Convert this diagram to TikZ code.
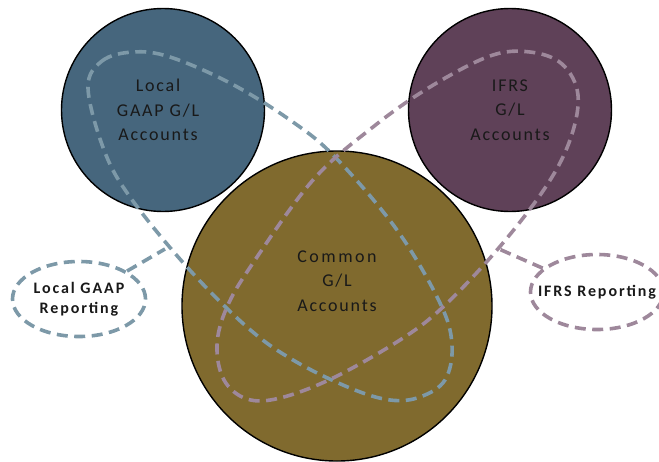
\documentclass[tikz,border=0pt]{standalone}
\usepackage{fontspec}
\usetikzlibrary{shapes.geometric}
\newfontfamily\lblfont[LetterSpace=10]{Carlito}
\newfontfamily\cmnfont[LetterSpace=14]{Carlito}
\newfontfamily\repfont[LetterSpace=12]{Carlito}
\definecolor{cblue}{RGB}{70,102,125}
\definecolor{cpurple}{RGB}{95,65,88}
\definecolor{cgold}{RGB}{128,106,46}
\definecolor{lblue}{RGB}{125,153,168}
\definecolor{lpurple}{RGB}{158,136,155}
\definecolor{txt}{RGB}{25,25,25}
\tikzset{
  acct/.style={circle, draw=black, line width=1.4pt, inner sep=0pt},
  acctext/.style={align=center, text=txt, font=\lblfont\fontsize{18}{24.5}\selectfont},
  dashline/.style={line width=3.6pt, dash pattern=on 11pt off 6.5pt},
  repnode/.style={ellipse, dashline, inner sep=0pt, minimum width=133pt, minimum height=75pt,
    align=center, text=txt, font=\repfont\bfseries\fontsize{16}{19.5}\selectfont}
}
\begin{document}
\begin{tikzpicture}[x=1pt,y=-1pt]
\useasboundingbox (0,0) rectangle (659,461);
% circles
\node[acct, fill=cblue, minimum size=203pt] (lc) at (163,110) {};
\node[acct, fill=cpurple, minimum size=203pt] (rc) at (510,110) {};
\node[acct, fill=cgold, minimum size=310pt] (cc) at (337,306) {};
% texts
\node[acctext] (lt) at (158,110) {Local\\GAAP G/L\\Accounts};
\node[acctext] (rt) at (510,110) {IFRS\\G/L\\Accounts};
\node[acctext] (ct) at (337,281) {{\cmnfont Common}\\G/L\\Accounts};
% loops
\draw[dashline, draw=lblue] plot[smooth cycle, tension=0.6] coordinates {
  (88,88) (102,61) (133,52) (170,57) (230,83) (290,120) (335,157) (397,230) (440,303)
  (452,345) (445,380) (420,397) (390,400) (350,388) (293,360) (247,327) (187,267) (130,197) (104,150)};
\draw[dashline, draw=lpurple] plot[smooth cycle, tension=0.6] coordinates {
  (578,95) (570,140) (545,188) (497,250) (443,307) (400,340) (333,378) (280,398) (247,399)
  (224,380) (217,345) (227,307) (253,263) (313,180) (373,127) (430,87) (490,56) (530,52) (562,64)};
% reporting ellipses
\node[repnode, draw=lblue] (lrep) at (79,299) {Local GAAP\\Reporting};
\node[repnode, draw=lpurple] (rrep) at (597,292) {\makebox[0pt]{IFRS Reporting}};
\coordinate (lj) at (165,249);
\coordinate (rj) at (499,249);
\draw[dashline, draw=lblue] (lrep) -- (lj);
\draw[dashline, draw=lpurple] (rrep) -- (rj);
\end{tikzpicture}
\end{document}
